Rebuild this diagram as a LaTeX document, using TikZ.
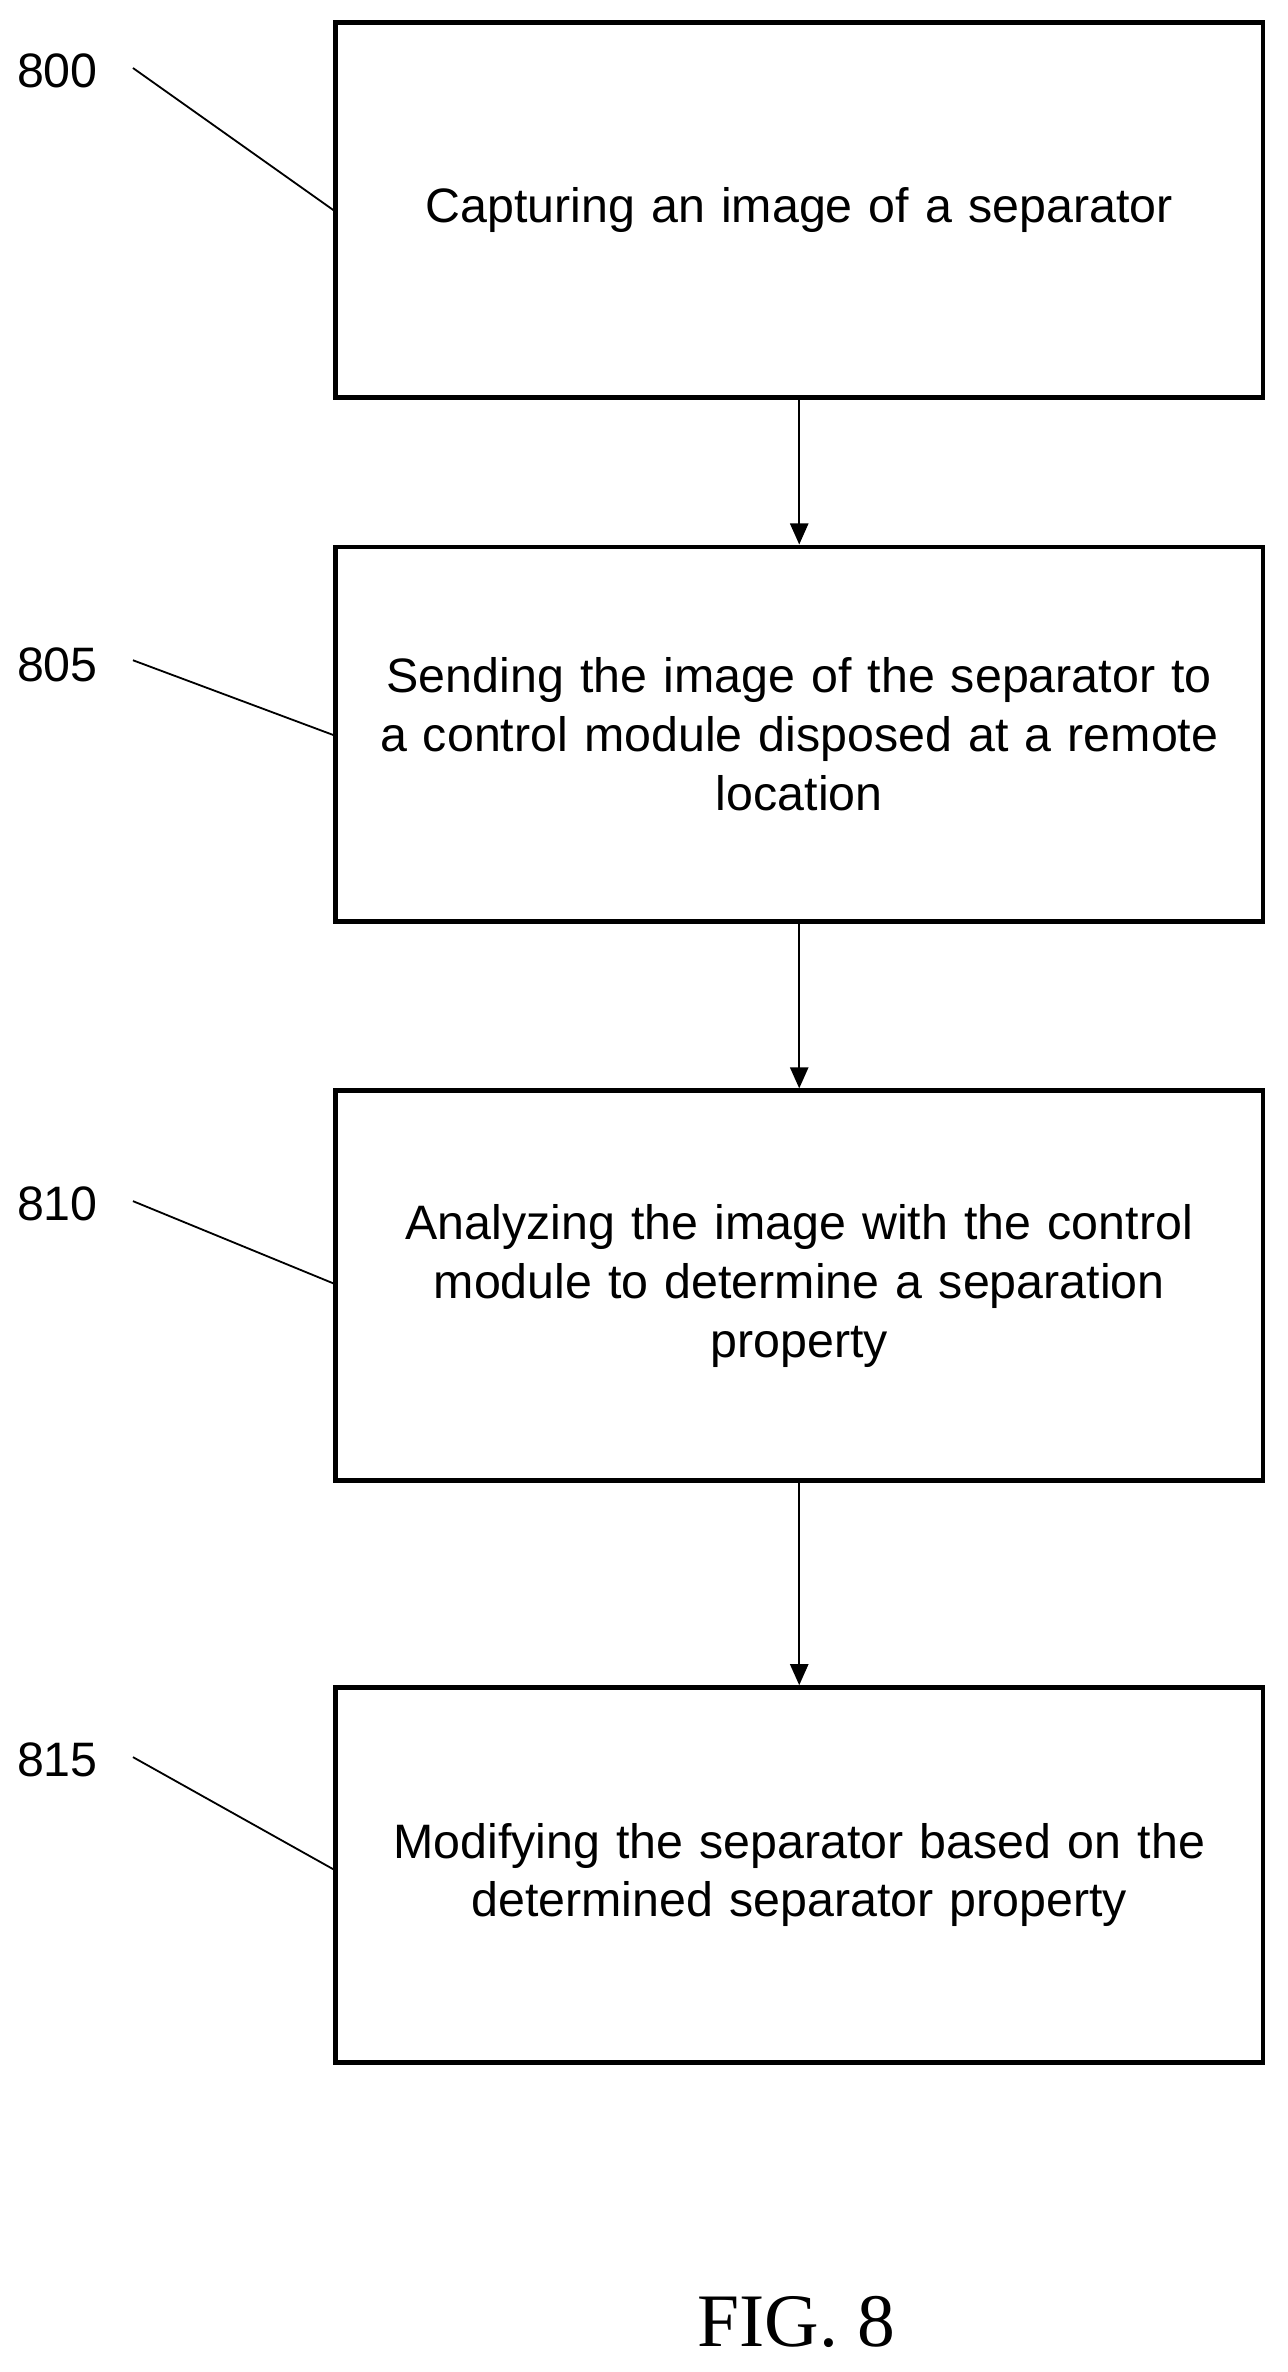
\documentclass[tikz,border=0pt]{standalone}
\usepackage{fontspec}
\setmainfont{Liberation Sans}
\newfontfamily\figfont{Liberation Serif}
\usetikzlibrary{arrows.meta}
\begin{document}
\begin{tikzpicture}[x=0.5pt,y=-0.5pt,
  box/.style={draw,line width=1.6pt,minimum width=307pt,minimum height=124pt,align=center,font=\fontsize{16}{19.5}\selectfont,text width=300pt},
  lbl/.style={font=\fontsize{16}{19}\selectfont},
  lead/.style={line width=0.6pt},
  arr/.style={line width=0.8pt,-{Triangle[length=7pt,width=6pt]}}]
\useasboundingbox (0,0) rectangle (852,1570);
\node[box] (b1) at (529,139) {Capturing an image of a separator};
\node[box] (b2) at (529,486) {Sending the image of the separator to\\a control module disposed at a remote\\location};
\node[box,minimum height=129pt] (b3) at (529,851) {Analyzing the image with the control\\module to determine a separation\\property};
\node[box] (b4) at (529,1241) {Modifying the separator based on the\\determined separator property};
\draw[arr] (b1) -- (b2);
\draw[arr] (b2) -- (b3);
\draw[arr] (b3) -- (b4);
\node[lbl] (l1) at (38,47) {800};
\node[lbl] (l2) at (38,440) {805};
\node[lbl] (l3) at (38,797) {810};
\node[lbl] (l4) at (38,1165) {815};
\coordinate (e1) at (222,140);
\coordinate (e2) at (222,487);
\coordinate (e3) at (222,850);
\coordinate (e4) at (222,1238);
\draw[lead] (88,45) -- (e1);
\draw[lead] (88,437) -- (e2);
\draw[lead] (88,795) -- (e3);
\draw[lead] (88,1163) -- (e4);
\node[font=\figfont\fontsize{25}{28}\selectfont] (fig) at (527,1537) {FIG. 8};
\end{tikzpicture}
\end{document}
